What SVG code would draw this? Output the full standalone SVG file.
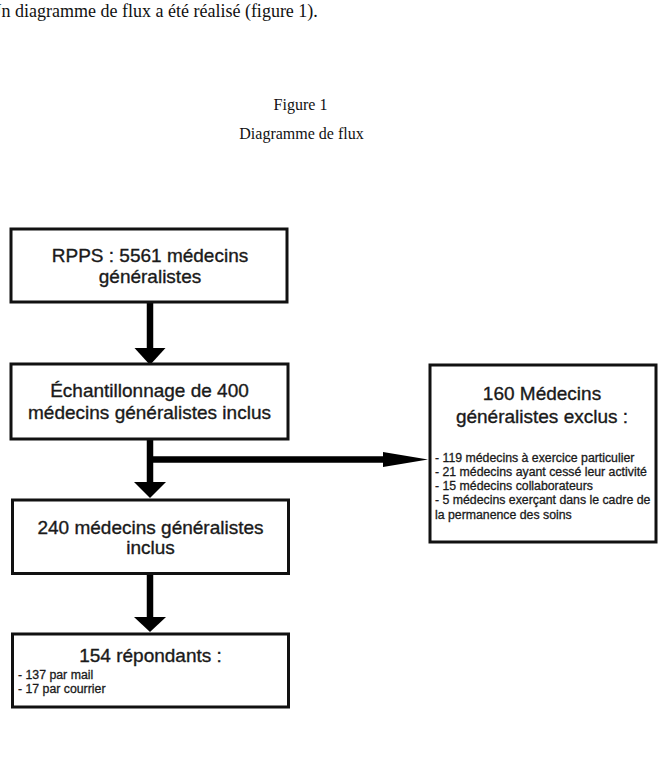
<svg xmlns="http://www.w3.org/2000/svg" width="663" height="767" viewBox="0 0 663 767">
  <style>
    .body { font-family: "Liberation Serif", "Times New Roman", serif; fill: #111; }
    .box { fill: #fff; stroke: #111; stroke-width: 3; }
    .head { font-family: "Liberation Sans", Arial, Helvetica, sans-serif; font-size: 19px; fill: #1a1a1a; stroke: #1a1a1a; stroke-width: 0.35; text-anchor: middle; }
    .item { font-family: "Liberation Sans", Arial, Helvetica, sans-serif; font-size: 12.3px; fill: #1a1a1a; stroke: #1a1a1a; stroke-width: 0.3; }
    .shaft { stroke: #000; stroke-width: 6.5; fill: none; }
    .tip { fill: #000; }
  </style>

  <rect width="663" height="767" fill="#fff"/>

  <!-- running text and figure caption -->
  <text class="body" x="-11.5" y="17" font-size="18">Un diagramme de flux a été réalisé (figure 1).</text>
  <text class="body" x="300.5" y="110" font-size="16" text-anchor="middle">Figure 1</text>
  <text class="body" x="301.5" y="139" font-size="16" text-anchor="middle">Diagramme de flux</text>

  <!-- connectors -->
  <g id="connectors">
    <line class="shaft" x1="150" y1="302" x2="150" y2="349"/>
    <polygon class="tip" points="134.5,348 165.5,348 150,365"/>

    <line class="shaft" x1="150" y1="438" x2="150" y2="483"/>
    <polygon class="tip" points="134,482 166,482 150,498"/>

    <line class="shaft" x1="150" y1="459.5" x2="385" y2="459.5" stroke-width="6"/>
    <polygon class="tip" points="383,452 383,467 428,459.5"/>

    <line class="shaft" x1="150" y1="573" x2="150" y2="618"/>
    <polygon class="tip" points="134,617 166,617 150,632"/>
  </g>

  <g id="node-rpps">
    <rect class="box" x="11" y="229" width="276" height="73"/>
    <text class="head" x="150" y="262">RPPS : 5561 médecins</text>
    <text class="head" x="150" y="283">généralistes</text>
  </g>

  <g id="node-echantillon">
    <rect class="box" x="11" y="364" width="277" height="75"/>
    <text class="head" x="149.5" y="397">Échantillonnage de 400</text>
    <text class="head" x="149.5" y="419">médecins généralistes inclus</text>
  </g>

  <g id="node-inclus">
    <rect class="box" x="12.5" y="500" width="276" height="73.5"/>
    <text class="head" x="150.5" y="534">240 médecins généralistes</text>
    <text class="head" x="150.5" y="554">inclus</text>
  </g>

  <g id="node-repondants">
    <rect class="box" x="12.5" y="634" width="276" height="73"/>
    <text class="head" x="150.5" y="662">154 répondants :</text>
    <text class="item" x="18" y="679">- 137 par mail</text>
    <text class="item" x="18" y="693">- 17 par courrier</text>
  </g>

  <g id="node-exclus">
    <rect class="box" x="430" y="365" width="226" height="177"/>
    <text class="head" x="542" y="400">160 Médecins</text>
    <text class="head" x="542" y="423">généralistes exclus :</text>
    <text class="item" x="435" y="462">- 119 médecins à exercice particulier</text>
    <text class="item" x="435" y="476">- 21 médecins ayant cessé leur activité</text>
    <text class="item" x="435" y="490">- 15 médecins collaborateurs</text>
    <text class="item" x="435" y="504">- 5 médecins exerçant dans le cadre de</text>
    <text class="item" x="435" y="519">la permanence des soins</text>
  </g>
</svg>
